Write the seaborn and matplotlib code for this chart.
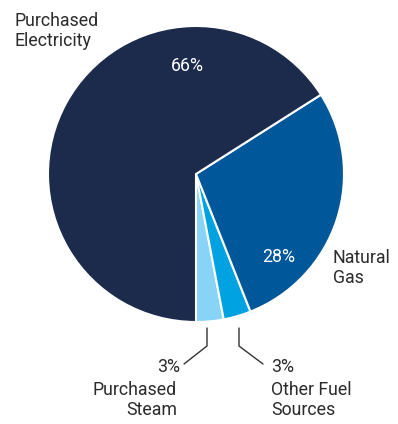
import matplotlib
matplotlib.use("Agg")
import matplotlib.pyplot as plt
import seaborn as sns

sns.set_theme(style="white")
plt.rcParams['font.family'] = ['Roboto', 'DejaVu Sans']

labels = ["Purchased\nSteam", "Other Fuel\nSources", "Natural\nGas", "Purchased\nElectricity"]
values = [3, 3, 28, 66]
colors = ["#88d3f6", "#00a2e1", "#00589a", "#1c2b4c"]

W, H = 398, 424
fig = plt.figure(figsize=(W / 100, H / 100), dpi=100)
ax = fig.add_axes([0, 0, 1, 1])
ax.set_xlim(0, W)
ax.set_ylim(H, 0)
ax.set_aspect("equal")
ax.axis("off")

cx, cy, r = 196, 174, 148
wedges, _ = ax.pie(values, colors=colors, startangle=-90, counterclock=True,
                   center=(cx, cy), radius=r, frame=True,
                   wedgeprops=dict(edgecolor="white", linewidth=1.5))
# y axis inverted -> flip pie to keep orientation
for w in wedges:
    t1, t2 = w.theta1, w.theta2
    w.set_theta1(-t2)
    w.set_theta2(-t1)
ax.set_xlim(0, W)
ax.set_ylim(H, 0)
ax.axis("off")

txt = "#2b2b2b"
fs = 12.8
ls = 1.15
ax.text(14, 31, labels[3], ha="left", va="center", fontsize=fs, color=txt, linespacing=ls)
ax.text(187, 66, f"{values[3]}%", ha="center", va="center", fontsize=fs, color="white")
ax.text(279, 257, f"{values[2]}%", ha="center", va="center", fontsize=fs, color="white")
ax.text(333, 268, labels[2], ha="left", va="center", fontsize=fs, color=txt, linespacing=ls)

ax.text(180, 367, f"{values[0]}%", ha="right", va="center", fontsize=fs, color=txt)
ax.text(177, 400, labels[0], ha="right", va="center", fontsize=fs, color=txt, linespacing=ls, multialignment="right")
ax.text(271, 367, f"{values[1]}%", ha="left", va="center", fontsize=fs, color=txt)
ax.text(271, 400, labels[1], ha="left", va="center", fontsize=fs, color=txt, linespacing=ls)

ax.plot([207, 207, 184], [328, 346, 364], color="#333333", lw=1)
ax.plot([239, 239, 263], [328, 346, 364], color="#333333", lw=1)

fig.savefig("out.png", dpi=100, facecolor="white")
